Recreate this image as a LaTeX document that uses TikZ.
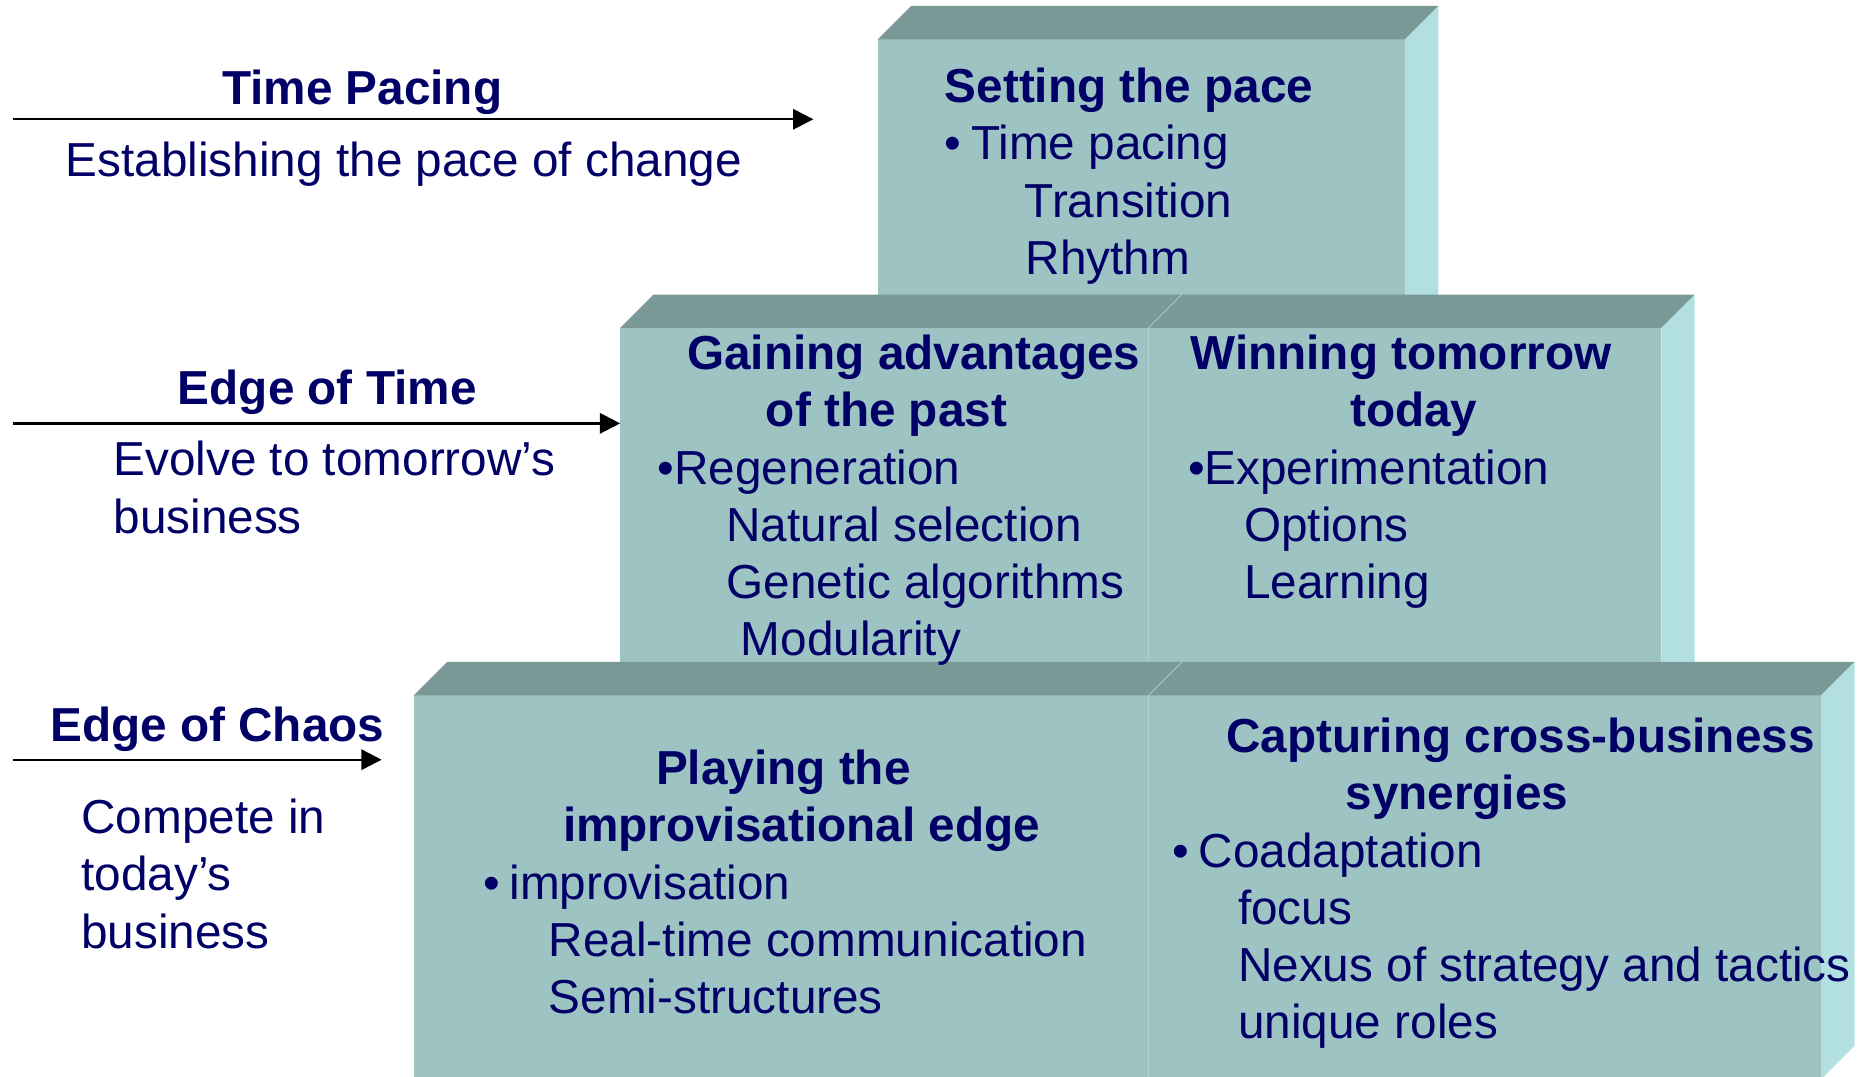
\documentclass[tikz,border=0pt]{standalone}
\usepackage{fontspec}
\setmainfont{Liberation Sans}
\usetikzlibrary{arrows.meta}
\definecolor{ink}{HTML}{000066}
\definecolor{faceC}{HTML}{9DC3C3}
\definecolor{topC}{HTML}{7A9896}
\definecolor{sideC}{HTML}{B2E0E0}
\definecolor{seamC}{HTML}{AED2D2}
\tikzset{
  txt/.style={anchor=base west, inner sep=0pt, text=ink, font=\fontsize{40}{48}\selectfont},
  hd/.style={txt, font=\fontsize{40}{48}\selectfont\bfseries},
  pointer/.style={draw=black, line width=2pt, -{Triangle[length=17pt,width=17pt]}},
  front/.style={fill=faceC},
  lid/.style={fill=topC},
  flank/.style={fill=sideC},
  seam/.style={draw=seamC, line width=1.6pt},
  lidseam/.style={draw=seamC, line width=0.6pt}
}
\begin{document}
\begin{tikzpicture}[x=1pt,y=-1pt]
\useasboundingbox (0,0) rectangle (1568,903);

% ---- top block
\fill[front] (736,33) rectangle (1178,262);
\fill[lid] (736,33) -- (764,5) -- (1206,5) -- (1178,33) -- cycle;
\fill[flank] (1178,33) -- (1206,5) -- (1206,262) -- (1178,262) -- cycle;

% ---- middle block
\fill[front] (520,275) rectangle (1393,570);
\fill[lid] (520,275) -- (548,247) -- (1421,247) -- (1393,275) -- cycle;
\fill[flank] (1393,275) -- (1421,247) -- (1421,570) -- (1393,570) -- cycle;
\draw[seam] (963,275) -- (963,570);
\draw[lidseam] (963,275) -- (991,247);

% ---- bottom block
\fill[front] (347,583) rectangle (1527,903);
\fill[lid] (347,583) -- (375,555) -- (1555,555) -- (1527,583) -- cycle;
\fill[flank] (1527,583) -- (1555,555) -- (1555,877) -- (1529,903) -- (1527,903) -- cycle;
\draw[seam] (963,583) -- (963,903);
\draw[lidseam] (963,583) -- (991,555);

% ---- left-hand labels and arrows
\coordinate (a1s) at (11,100);  \coordinate (a1e) at (682,100);
\coordinate (a2s) at (11,355);  \coordinate (a2e) at (520,355);
\coordinate (a3s) at (11,637);  \coordinate (a3e) at (320,637);
\draw[pointer] (a1s) -- (a1e);
\draw[pointer] (a2s) -- (a2e);
\draw[pointer] (a3s) -- (a3e);

\node[hd]  (tp)  at (186,88)  {Time Pacing};
\node[txt] (tp1) at (55,148)  {Establishing the pace of change};

\node[hd]  (et)  at (149,339) {Edge of Time};
\node[txt] (et1) at (95,399)  {Evolve to tomorrow’s};
\node[txt] (et2) at (95,447)  {business};

\node[hd]  (ec)  at (42,622)  {Edge of Chaos};
\node[txt] (ec1) at (68,699)  {Compete in};
\node[txt] (ec2) at (68,747)  {today’s};
\node[txt] (ec3) at (68,795)  {business};

% ---- top block text
\node[hd]  (s0) at (792,86)  {Setting the pace};
\node[txt] (s1) at (792,134) {•\hspace{8pt}Time pacing};
\node[txt] (s2) at (859,182) {Transition};
\node[txt] (s3) at (860,230) {Rhythm};

% ---- middle block text
\node[hd]  (g0) at (576,310) {Gaining advantages};
\node[hd]  (g1) at (642,358) {of the past};
\node[txt] (g2) at (551,406) {•Regeneration};
\node[txt] (g3) at (609,454) {Natural selection};
\node[txt] (g4) at (609,502) {Genetic algorithms};
\node[txt] (g5) at (621,550) {Modularity};

\node[hd]  (w0) at (998,310)  {Winning tomorrow};
\node[hd]  (w1) at (1132,358) {today};
\node[txt] (w2) at (996,406)  {•Experimentation};
\node[txt] (w3) at (1043,454) {Options};
\node[txt] (w4) at (1043,502) {Learning};

% ---- bottom block text
\node[hd]  (p0) at (550,658) {Playing the};
\node[hd]  (p1) at (472,706) {improvisational edge};
\node[txt] (p2) at (405,754) {•\hspace{8pt}improvisation};
\node[txt] (p3) at (460,802) {Real-time communication};
\node[txt] (p4) at (460,850) {Semi-structures};

\node[hd]  (c0) at (1028,631) {Capturing cross-business};
\node[hd]  (c1) at (1128,679) {synergies};
\node[txt] (c2) at (983,727)  {•\hspace{8pt}Coadaptation};
\node[txt] (c3) at (1038,775) {focus};
\node[txt] (c4) at (1038,823) {Nexus of strategy and tactics};
\node[txt] (c5) at (1038,871) {unique roles};
\end{tikzpicture}
\end{document}
